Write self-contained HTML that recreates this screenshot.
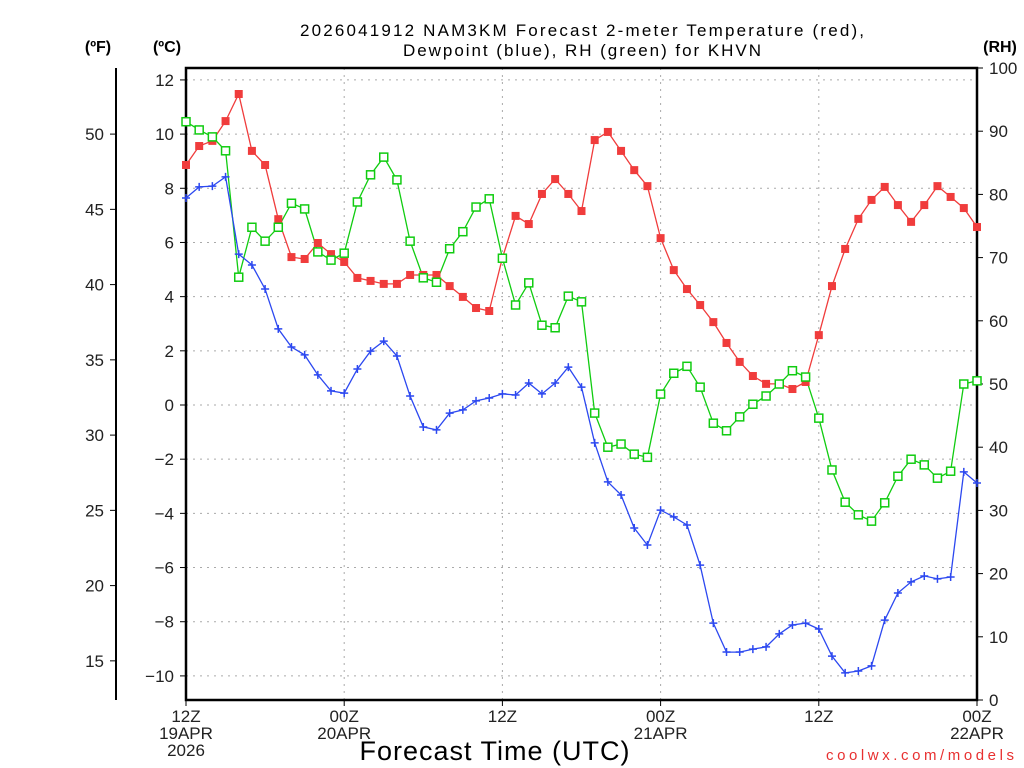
<!DOCTYPE html>
<html><head><meta charset="utf-8"><style>
body{margin:0;background:#fff;}
svg{display:block;font-family:"Liberation Sans",sans-serif;}
</style></head><body>
<svg id="chart" width="1024" height="768" viewBox="0 0 1024 768">
<g font-size="17" text-anchor="middle" fill="#000">
<text x="582" y="36" textLength="564" lengthAdjust="spacing">2026041912 NAM3KM Forecast 2-meter Temperature (red),</text>
<text x="582" y="56" textLength="358" lengthAdjust="spacing">Dewpoint (blue), RH (green) for KHVN</text>
</g>
<text x="98" y="52" font-size="16" font-weight="bold" text-anchor="middle">(ºF)</text>
<text x="167" y="52" font-size="16" font-weight="bold" text-anchor="middle">(ºC)</text>
<text x="1000" y="52" font-size="16" font-weight="bold" text-anchor="middle">(RH)</text>
<g id="grid"></g>
<g id="axes"></g>
<g id="series"></g>
<text x="495" y="760" font-size="27" text-anchor="middle" letter-spacing="1">Forecast Time (UTC)</text>
<text x="826" y="760" font-size="15" fill="#e83030" textLength="188" lengthAdjust="spacing">coolwx.com/models</text>
</svg>
<script>
const temps=[8.86,9.56,9.75,10.48,11.48,9.38,8.86,6.86,5.46,5.39,5.98,5.57,5.28,4.69,4.58,4.47,4.47,4.8,4.8,4.8,4.39,3.99,3.58,3.47,5.43,6.98,6.68,7.79,8.34,7.79,7.16,9.78,10.08,9.38,8.67,8.08,6.16,4.98,4.28,3.69,3.06,2.29,1.59,1.07,0.78,0.78,0.59,0.85,2.58,4.39,5.76,6.87,7.57,8.05,7.38,6.76,7.38,8.08,7.68,7.27,6.57];
const dewpts=[7.64,8.05,8.08,8.42,5.57,5.17,4.28,2.81,2.14,1.85,1.11,0.52,0.44,1.33,1.99,2.36,1.81,0.33,-0.81,-0.92,-0.3,-0.18,0.15,0.26,0.41,0.37,0.81,0.41,0.81,1.4,0.66,-1.4,-2.84,-3.32,-4.54,-5.17,-3.88,-4.13,-4.43,-5.91,-8.05,-9.12,-9.12,-9.01,-8.93,-8.45,-8.12,-8.05,-8.27,-9.27,-9.89,-9.82,-9.63,-7.94,-6.94,-6.53,-6.31,-6.42,-6.35,-2.47,-2.88];
const rhs=[91.5,90.2,89.1,86.9,66.9,74.8,72.6,74.8,78.6,77.7,70.9,69.6,70.7,78.8,83.1,85.9,82.3,72.6,66.8,66.1,71.4,74.1,78.0,79.3,69.9,62.5,66.0,59.3,58.9,63.9,63.0,45.4,40.0,40.5,38.9,38.4,48.4,51.7,52.8,49.5,43.8,42.6,44.8,46.8,48.1,50.0,52.1,51.1,44.6,36.4,31.3,29.3,28.3,31.2,35.4,38.1,37.2,35.1,36.2,50.0,50.5];
const cTicks=[12,10,8,6,4,2,0,-2,-4,-6,-8,-10];
const fTicks=[50,45,40,35,30,25,20,15];
const rhTicks=[100,90,80,70,60,50,40,30,20,10,0];
const timeHours=[0,12,24,36,48,60];
const timeLabels=[["12Z","19APR","2026"],["00Z","20APR"],["12Z"],["00Z","21APR"],["12Z"],["00Z","22APR"]];

const L=186,R=977,T=68,B=700;
const xS=h=>L+h*(R-L)/60;
const yC=c=>405-c*27.09;
const yF=f=>yC((f-32)*5/9);
const yRH=r=>B-r*(B-T)/100;
const NS="http://www.w3.org/2000/svg";
function mk(tag,attrs,parent){const e=document.createElementNS(NS,tag);for(const k in attrs)e.setAttribute(k,attrs[k]);parent.appendChild(e);return e;}
const grid=document.getElementById('grid'),axes=document.getElementById('axes'),ser=document.getElementById('series');

cTicks.forEach(c=>{
 const g=mk('line',{x1:L,x2:R,y1:yC(c),y2:yC(c),stroke:'#aaa','stroke-dasharray':'2,5'},grid);
 
 
 const t=mk('line',{x1:L-6,x2:L,y1:yC(c),y2:yC(c),stroke:'#000'},axes);
 
 
 const tx=mk('text',{x:L-12,y:yC(c)+6,'font-size':17,'text-anchor':'end',fill:'#222'},axes);
 tx.textContent=c<0?'\u2212'+(-c):String(c);
 
 
});
timeHours.forEach((h,i)=>{
 if(h>0&&h<60){const g=mk('line',{x1:xS(h),x2:xS(h),y1:T,y2:B,stroke:'#aaa','stroke-dasharray':'2,5'},grid);
 
 }
 const t=mk('line',{x1:xS(h),x2:xS(h),y1:B,y2:B+6,stroke:'#000'},axes);
 
 
 timeLabels[i].forEach((s,j)=>{
  const tx=mk('text',{x:xS(h),y:B+22+j*17,'font-size':17,'text-anchor':'middle',fill:'#222'},axes);
  tx.textContent=s;
  
  
 });
});
const fr=mk('rect',{x:L,y:T,width:R-L,height:B-T,fill:'none',stroke:'#000','stroke-width':2.5},axes);


const fa=mk('line',{x1:116,x2:116,y1:T,y2:B,stroke:'#000','stroke-width':2},axes);


fTicks.forEach(f=>{
 const t=mk('line',{x1:110,x2:116,y1:yF(f),y2:yF(f),stroke:'#000'},axes);
 
 
 const tx=mk('text',{x:104,y:yF(f)+6,'font-size':17,'text-anchor':'end',fill:'#222'},axes);
 tx.textContent=String(f);
 
 
});
rhTicks.forEach(r=>{
 const t=mk('line',{x1:R,x2:R+6,y1:yRH(r),y2:yRH(r),stroke:'#000'},axes);
 
 
 const tx=mk('text',{x:R+12,y:yRH(r)+6,'font-size':17,'text-anchor':'start',fill:'#222'},axes);
 tx.textContent=String(r);
 
 
});

function line(vals,yf,color,name){
 const pts=vals.map((v,i)=>xS(i).toFixed(1)+','+yf(v).toFixed(1)).join(' ');
 const p=mk('polyline',{points:pts,fill:'none',stroke:color,'stroke-width':1.3},ser);
 
 
}
line(temps,yC,'#f03c3c','temperature-line');
line(rhs,yRH,'#10cc10','rh-line');
line(dewpts,yC,'#2c48f0','dewpoint-line');
temps.forEach((v,i)=>{
 const m=mk('rect',{x:xS(i)-4,y:yC(v)-4,width:8,height:8,fill:'#f03c3c'},ser);
 
 
});
rhs.forEach((v,i)=>{
 const m=mk('rect',{x:xS(i)-4,y:yRH(v)-4,width:8,height:8,fill:'#fff',stroke:'#10cc10','stroke-width':1.5},ser);
 
 
});
dewpts.forEach((v,i)=>{
 const x=xS(i),y=yC(v);
 const m=mk('path',{d:`M${x-4},${y}H${x+4}M${x},${y-4}V${y+4}`,stroke:'#2c48f0','stroke-width':1.5},ser);
 
 
});
</script>
</body></html>
